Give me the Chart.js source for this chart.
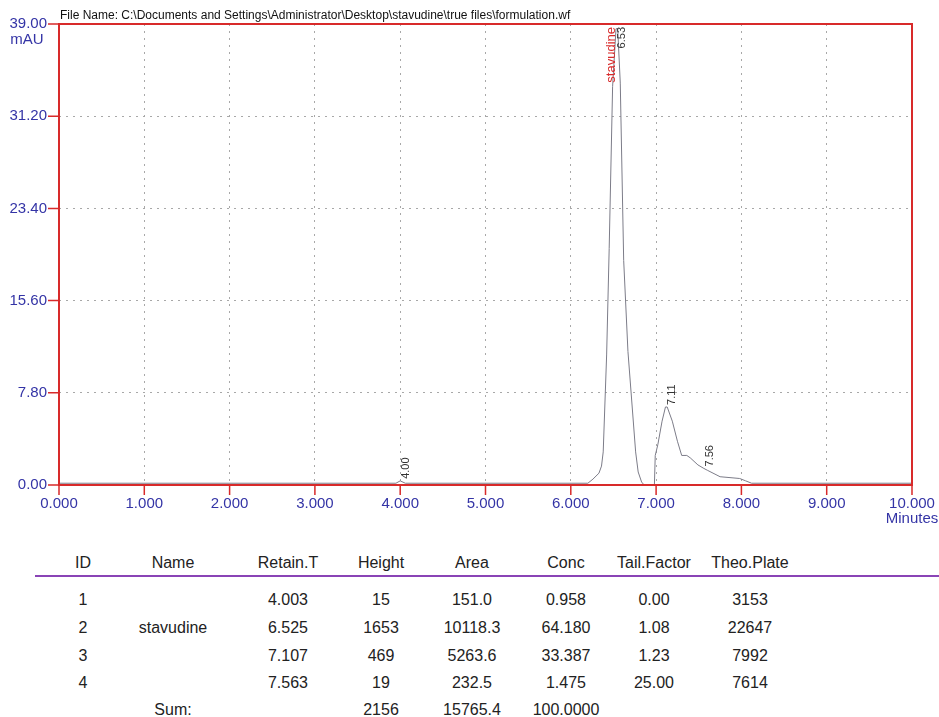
<!DOCTYPE html>
<html>
<head>
<meta charset="utf-8">
<script src="https://cdn.jsdelivr.net/npm/chart.js@4.4.1/dist/chart.umd.min.js"></script>
<style>
  body { margin: 0; background: #fff; font-family: "Liberation Sans", Arial, sans-serif; }
  #wrap { position: absolute; left: 0; top: 0; width: 939px; height: 535px; }
  #fileName { position: absolute; left: 60px; top: 8px; font-size: 12px; color: #111; }
  #rule { position: absolute; left: 35px; top: 575px; width: 904px; height: 2px; background: #8a44b6; }
  .cell { position: absolute; width: 120px; text-align: center; font-size: 16px; color: #222; line-height: 18px; }
</style>
</head>
<body>
<div id="wrap"><canvas id="chrom" width="939" height="535"></canvas></div>
<div id="fileName">File Name: C:\Documents and Settings\Administrator\Desktop\stavudine\true files\formulation.wf</div>
<div id="rule"></div>
<div id="table"></div>
<script>
// trace (minutes, mAU)
const times   = [0.00, 3.95, 4.00, 4.06, 6.20, 6.26, 6.33, 6.36, 6.38, 6.42, 6.45, 6.49, 6.53, 6.55, 6.58, 6.62, 6.67, 6.76, 6.79, 6.83, 6.86, 6.98, 6.99, 7.02, 7.07, 7.11, 7.13, 7.19, 7.25, 7.30, 7.36, 7.40, 7.49, 7.56, 7.60, 7.75, 7.98, 8.05, 8.12, 10.00];
const signal  = [0.15, 0.15, 0.35, 0.15, 0.15, 0.5, 1.0, 1.6, 2.8, 11.0, 20.0, 33.7, 38.6, 38.6, 34.0, 19.0, 11.3, 2.8, 1.1, 0.25, 0.0, 0.0, 2.5, 3.4, 5.4, 6.6, 6.6, 5.4, 3.7, 2.5, 2.5, 2.3, 1.7, 1.4, 1.25, 0.7, 0.55, 0.35, 0.15, 0.15];

const peakTimes   = [4.00, 6.53, 7.11, 7.56];
const peakHeights = [0.35, 38.6, 6.6, 1.4];
const peakLabels  = ['4.00', '6.53', '7.11', '7.56'];
const peakNames   = ['', 'stavudine', '', ''];

// results table
const colHeads  = ['ID', 'Name', 'Retain.T', 'Height', 'Area', 'Conc', 'Tail.Factor', 'Theo.Plate'];
const ids       = ['1', '2', '3', '4'];
const names     = ['', 'stavudine', '', ''];
const retainT   = ['4.003', '6.525', '7.107', '7.563'];
const heights   = ['15', '1653', '469', '19'];
const areas     = ['151.0', '10118.3', '5263.6', '232.5'];
const concs     = ['0.958', '64.180', '33.387', '1.475'];
const tailF     = ['0.00', '1.08', '1.23', '25.00'];
const theoPlate = ['3153', '22647', '7992', '7614'];
const sumRow    = ['', 'Sum:', '', '2156', '15765.4', '100.0000', '', ''];

const RED = '#d82a2a';
const BLUE = '#3434a6';
const FONT = '"Liberation Sans", Arial, sans-serif';

const isMajor = (v, step) => Math.abs(v / step - Math.round(v / step)) < 1e-6;

const decorations = {
  id: 'decorations',
  afterDraw(chart) {
    const { ctx, chartArea: a, scales: { x, y } } = chart;
    ctx.save();
    ctx.strokeStyle = RED;
    ctx.lineWidth = 2;
    ctx.strokeRect(a.left, a.top, a.right - a.left, a.bottom - a.top);

    // tick marks, major and minor
    ctx.lineWidth = 1.5;
    ctx.beginPath();
    x.ticks.forEach(t => {
      const px = x.getPixelForValue(t.value);
      const len = isMajor(t.value, 1) ? 10 : 5;
      ctx.moveTo(px, a.bottom);
      ctx.lineTo(px, a.bottom + len);
    });
    y.ticks.forEach(t => {
      const py = y.getPixelForValue(t.value);
      const len = isMajor(t.value, 7.8) ? 11 : 6;
      ctx.moveTo(a.left - len, py);
      ctx.lineTo(a.left, py);
    });
    ctx.stroke();

    // unit labels
    ctx.fillStyle = BLUE;
    ctx.font = '15px ' + FONT;
    ctx.textAlign = 'center';
    ctx.textBaseline = 'middle';
    ctx.fillText('mAU', 27, 40);
    ctx.fillText('Minutes', 912, 519);

    // peak labels
    ctx.font = '11px ' + FONT;
    peakTimes.forEach((t, i) => {
      const px = x.getPixelForValue(t);
      const py = y.getPixelForValue(peakHeights[i]);
      ctx.save();
      ctx.translate(px + 6, Math.max(py - 2, a.top + 3));
      ctx.rotate(-Math.PI / 2);
      ctx.fillStyle = '#333';
      ctx.textBaseline = 'middle';
      if (py - 30 < a.top) {
        ctx.textAlign = 'right';
        ctx.fillText(peakLabels[i], 0, 0);
        if (peakNames[i]) {
          ctx.fillStyle = RED;
          ctx.font = '13px ' + FONT;
          ctx.fillText(peakNames[i], 0, -11);
        }
      } else {
        ctx.textAlign = 'left';
        ctx.fillText(peakLabels[i], 0, 0);
      }
      ctx.restore();
    });
    ctx.restore();
  }
};

new Chart(document.getElementById('chrom'), {
  type: 'line',
  data: {
    datasets: [{
      data: times.map((t, i) => ({ x: t, y: signal[i] })),
      borderColor: '#7c7c88',
      borderWidth: 1,
      pointRadius: 0,
      tension: 0,
      fill: false
    }]
  },
  options: {
    responsive: false,
    animation: false,
    events: [],
    layout: { padding: { top: 24, right: 27, left: 0, bottom: 0 } },
    plugins: { legend: { display: false }, tooltip: { enabled: false } },
    scales: {
      x: {
        type: 'linear',
        min: 0,
        max: 10,
        afterFit: s => { s.height = 50; s.paddingLeft = 0; s.paddingRight = 0; },
        ticks: {
          stepSize: 0.2,
          autoSkip: false,
          maxRotation: 0,
          padding: 10,
          color: BLUE,
          font: { size: 15, family: FONT },
          callback: v => isMajor(v, 1) ? v.toFixed(3) : null
        },
        grid: {
          drawTicks: false,
          color: c => (c.tick && isMajor(c.tick.value, 1) && c.tick.value > 0 && c.tick.value < 10) ? '#a8a8a8' : 'transparent',
          lineWidth: 1
        },
        border: { display: false, dash: [2, 5] }
      },
      y: {
        min: 0,
        max: 39,
        afterFit: s => { s.width = 59; s.paddingTop = 0; s.paddingBottom = 0; },
        ticks: {
          stepSize: 1.56,
          autoSkip: false,
          padding: 12,
          color: BLUE,
          font: { size: 15, family: FONT },
          callback: v => isMajor(v, 7.8) ? v.toFixed(2) : null
        },
        grid: {
          drawTicks: false,
          color: c => (c.tick && isMajor(c.tick.value, 7.8) && c.tick.value > 0 && c.tick.value < 39) ? '#a8a8a8' : 'transparent',
          lineWidth: 1
        },
        border: { display: false, dash: [2, 5] }
      }
    }
  },
  plugins: [decorations]
});

// table below the chromatogram
const colCenters = [83, 173, 288, 381, 472, 566, 654, 750];
const rowTops = [600, 628, 656, 683];
const table = document.getElementById('table');
function cell(text, cx, cy) {
  const d = document.createElement('div');
  d.className = 'cell';
  d.textContent = text;
  d.style.left = (cx - 60) + 'px';
  d.style.top = (cy - 9) + 'px';
  table.appendChild(d);
}
colHeads.forEach((h, j) => cell(h, colCenters[j], 563));
const columns = [ids, names, retainT, heights, areas, concs, tailF, theoPlate];
rowTops.forEach((cy, i) => columns.forEach((col, j) => cell(col[i], colCenters[j], cy)));
sumRow.forEach((s, j) => { if (s) cell(s, colCenters[j], 710); });
</script>
</body>
</html>
